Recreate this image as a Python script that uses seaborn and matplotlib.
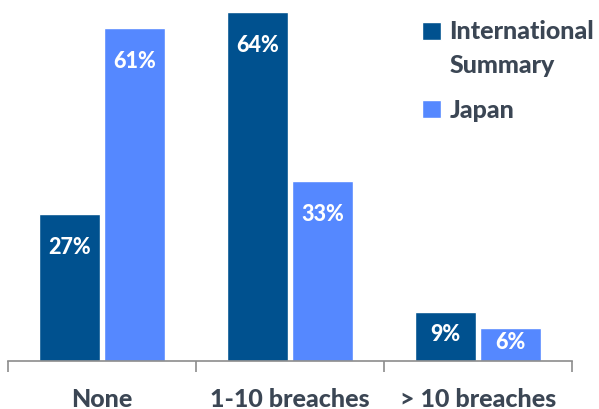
import matplotlib
matplotlib.use("Agg")
import matplotlib.pyplot as plt
import seaborn as sns
import pandas as pd
from matplotlib.patches import Patch, Rectangle
from matplotlib.legend_handler import HandlerPatch

categories = ["None", "1-10 breaches", "> 10 breaches"]
series = ["International\nSummary", "Japan"]
international = [27, 64, 9]
japan = [61, 33, 6]
colors = ["#00518F", "#5588FF"]
text_color = "#3B4654"

rows = []
for c, a, b in zip(categories, international, japan):
    rows.append({"cat": c, "series": series[0], "val": a})
    rows.append({"cat": c, "series": series[1], "val": b})
df = pd.DataFrame(rows)

sns.set_style("white")
plt.rcParams["font.family"] = ["Lato", "DejaVu Sans"]
FW = 900

fig = plt.figure(figsize=(5.99, 4.10), dpi=100)
ax = fig.add_axes([8 / 599, 48 / 410, 564 / 599, 362 / 410])
sns.barplot(data=df, x="cat", y="val", hue="series", palette=colors,
            width=0.686, gap=0.05, ax=ax, legend=False, saturation=1)

ax.set_xlim(-0.5, 2.5)
ax.set_ylim(0, 66.3)
for side in ["top", "right", "left"]:
    ax.spines[side].set_visible(False)
ax.spines["bottom"].set_color("#8C8C8C")
ax.spines["bottom"].set_linewidth(1.2)
ax.set_yticks([])
ax.set_xlabel("")
ax.set_ylabel("")
ax.set_xticks([0, 1, 2])
ax.set_xticklabels(categories, fontsize=18, fontweight=FW, color=text_color)
ax.tick_params(axis="x", which="major", bottom=False, length=0, pad=18.5)
ax.set_xticks([-0.5, 0.5, 1.5, 2.5], minor=True)
ax.tick_params(axis="x", which="minor", bottom=True, length=8, width=1.2,
               color="#8C8C8C", direction="out")

for cont in ax.containers:
    for bar in cont:
        h = bar.get_height()
        x = bar.get_x() + bar.get_width() / 2
        y = h - 6.0 if h > 12 else h / 2 + 0.6
        ax.text(x, y, f"{h:.0f}%", ha="center", va="center", color="white",
                fontsize=15.5, fontweight=FW)


def top_line_patch(legend, orig_handle, xdescent, ydescent, width, height, fontsize):
    return Rectangle((-xdescent, -ydescent + 12.5), width, height)


handles = [Patch(facecolor=colors[0]), Patch(facecolor=colors[1])]
leg = fig.legend(handles, series, loc="upper left", bbox_to_anchor=(0.667, 1.005),
                 frameon=False, handlelength=0.75, handleheight=0.75, handletextpad=0.35,
                 labelspacing=0.9,
                 handler_map={handles[0]: HandlerPatch(patch_func=top_line_patch)},
                 prop={"family": ["Lato", "DejaVu Sans"], "weight": FW, "size": 18})
for t in leg.get_texts():
    t.set_color(text_color)
    t.set_linespacing(1.55)

fig.savefig("out.png", dpi=100)
